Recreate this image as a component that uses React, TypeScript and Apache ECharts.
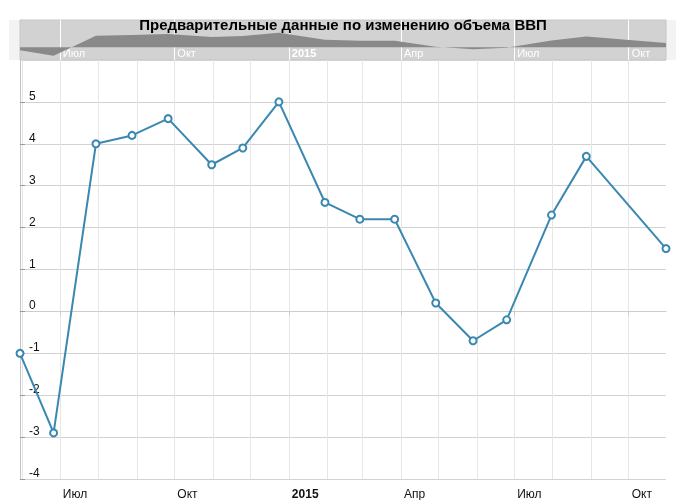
import React, { useEffect, useRef } from 'react';
import * as echarts from 'echarts';

const chartTitle = 'Предварительные данные по изменению объема ВВП';
const dates = [
  '2014-05-30', '2014-06-26', '2014-07-30', '2014-08-28', '2014-09-26', '2014-10-31',
  '2014-11-25', '2014-12-24', '2015-01-30', '2015-02-27', '2015-03-27', '2015-04-29',
  '2015-05-29', '2015-06-25', '2015-07-31', '2015-08-28', '2015-10-31',
];
const gdp = [-1.0, -2.9, 4.0, 4.2, 4.6, 3.5, 3.9, 5.0, 2.6, 2.2, 2.2, 0.2, -0.7, -0.2, 2.3, 3.7, 1.5];
const quarterTicks = ['2014-07-01', '2014-10-01', '2015-01-01', '2015-04-01', '2015-07-01', '2015-10-01'];
const monthTicks = [
  '2014-06-01', '2014-07-01', '2014-08-01', '2014-09-01', '2014-10-01', '2014-11-01', '2014-12-01',
  '2015-01-01', '2015-02-01', '2015-03-01', '2015-04-01', '2015-05-01', '2015-06-01', '2015-07-01',
  '2015-08-01', '2015-09-01', '2015-10-01',
];
const monthNames = ['Янв', 'Фев', 'Мар', 'Апр', 'Май', 'Июн', 'Июл', 'Авг', 'Сен', 'Окт', 'Ноя', 'Дек'];
const yMin = -4;
const yMax = 6;

function ts(s: string): number {
  const [y, m, d] = s.split('-').map(Number);
  return new Date(y, m - 1, d).getTime();
}

function fmt(v: number): string {
  const d = new Date(Number(v));
  return d.getMonth() === 0 ? `{b|${d.getFullYear()}}` : monthNames[d.getMonth()];
}

const FONT = 'Liberation Sans, Arial, sans-serif';

export default function App() {
  const ref = useRef<HTMLDivElement>(null);
  useEffect(() => {
    if (!ref.current) return;
    const chart = echarts.init(ref.current, null, { renderer: 'svg' });
    const points = dates.map((d, i) => [ts(d), gdp[i]]);
    const xMin = ts(dates[0]);
    const xMax = ts(dates[dates.length - 1]);
    const qTicks = quarterTicks.map(ts);
    const mTicks = monthTicks.map(ts);
    chart.setOption({
      animation: false,
      textStyle: { fontFamily: FONT },
      title: {
        text: chartTitle,
        left: 'center',
        top: 12,
        textStyle: { fontSize: 15, fontWeight: 'bold', color: '#000', fontFamily: FONT },
        z: 10,
      },
      graphic: [
        { type: 'rect', shape: { x: 9, y: 20, width: 11, height: 40 }, style: { fill: '#f3f3f3' }, z: -1 },
        { type: 'rect', shape: { x: 666, y: 20, width: 10, height: 40 }, style: { fill: '#f3f3f3' }, z: -1 },
      ],
      grid: [
        { left: 20, right: 20, top: 60, bottom: 21, containLabel: false },
        {
          left: 20, right: 20, top: 20, height: 40, show: true,
          backgroundColor: '#d2d2d2', borderColor: '#c6c6c6', borderWidth: 1,
        },
      ],
      xAxis: [
        {
          type: 'value', gridIndex: 0, min: xMin, max: xMax, scale: true,
          axisLine: { show: true, lineStyle: { color: '#cccccc' } },
          axisTick: { show: true, customValues: qTicks, length: 4, lineStyle: { color: '#cccccc' } },
          splitLine: { show: false },
          axisLabel: {
            customValues: qTicks, formatter: fmt, align: 'left', padding: [0, 0, 0, 3],
            margin: 9, color: '#111', fontSize: 12, fontFamily: FONT,
            rich: { b: { fontWeight: 'bold', fontSize: 12, color: '#111', fontFamily: FONT } },
          },
        },
        {
          type: 'value', gridIndex: 0, min: xMin, max: xMax, scale: true,
          axisLine: { show: false },
          axisTick: { show: false, customValues: mTicks },
          axisLabel: { show: false, customValues: mTicks, formatter: fmt },
          splitLine: { show: true, lineStyle: { color: '#e6e6e6', width: 1 } },
        },
        {
          type: 'value', gridIndex: 1, min: xMin, max: xMax, scale: true,
          axisLine: { show: false },
          axisTick: { show: false, customValues: qTicks },
          splitLine: { show: true, lineStyle: { color: '#ffffff', width: 1 } },
          axisLabel: {
            customValues: qTicks, formatter: fmt, inside: true, align: 'left', padding: [0, 0, 0, 3],
            margin: 2, color: '#ffffff', fontSize: 11, fontFamily: FONT,
            rich: { b: { fontWeight: 'bold', fontSize: 11, color: '#ffffff', fontFamily: FONT } },
          },
        },
      ],
      yAxis: [
        {
          type: 'value', gridIndex: 0, min: yMin, max: yMax, interval: 1,
          axisLine: { show: true, lineStyle: { color: '#c4c4c4' } },
          axisTick: { show: true, inside: true, length: 5, lineStyle: { color: '#999999' } },
          splitLine: { show: true, lineStyle: { color: '#d2d2d2' } },
          axisLabel: {
            inside: true, margin: 9, verticalAlign: 'bottom', color: '#111', fontSize: 12,
            fontFamily: FONT, showMaxLabel: false,
          },
        },
        {
          type: 'value', gridIndex: 1, min: -4.4, max: 9.4, show: false,
          splitLine: { show: false },
        },
      ],
      series: [
        {
          type: 'line', xAxisIndex: 2, yAxisIndex: 1, data: points, showSymbol: false,
          lineStyle: { width: 0 }, areaStyle: { color: '#898989', opacity: 1 }, silent: true,
        },
        {
          type: 'line', xAxisIndex: 0, yAxisIndex: 0, data: points, clip: false,
          symbol: 'circle', symbolSize: 7,
          itemStyle: { color: '#ffffff', borderColor: '#3a88b1', borderWidth: 2 },
          lineStyle: { color: '#3a88b1', width: 2 },
          z: 5,
        },
      ],
    });
    return () => chart.dispose();
  }, []);
  return <div ref={ref} style={{ position: 'fixed', left: 0, top: 0, width: 686, height: 500 }} />;
}
